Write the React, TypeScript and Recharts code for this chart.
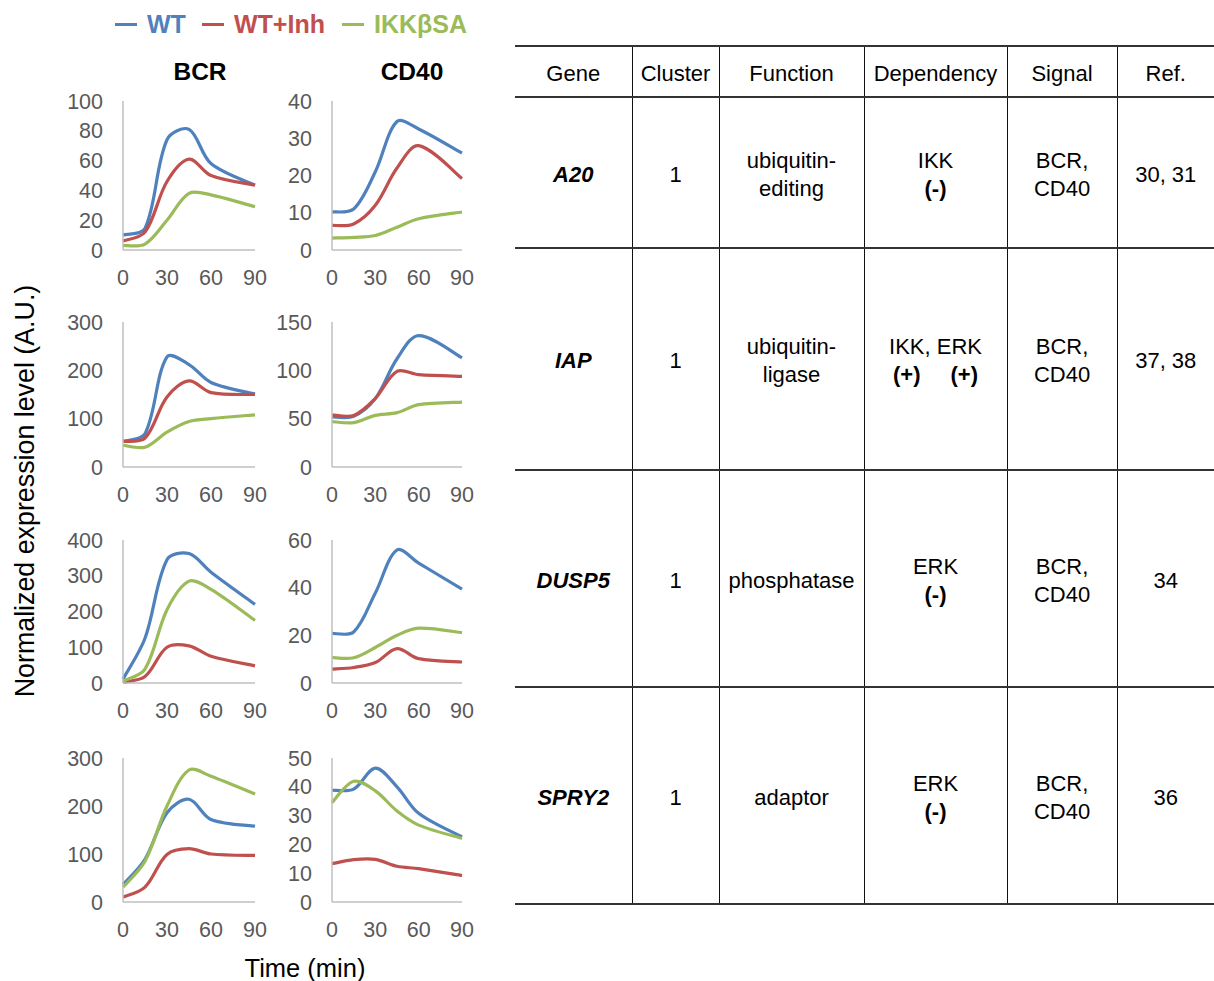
import React from 'react';
import { LineChart, Line, XAxis, YAxis } from 'recharts';

const TIMES = [0, 15, 30, 45, 60, 90];
const X_TICKS = [0, 30, 60, 90];

const SERIES = [
  { key: 'wt', name: 'WT', color: '#4F81BD' },
  { key: 'inh', name: 'WT+Inh', color: '#C0504D' },
  { key: 'sa', name: 'IKKβSA', color: '#9BBB59' },
];

// A20
const A20_BCR_WT = [10, 14.5, 74, 81, 58, 43.5];
const A20_BCR_INH = [6, 12, 46, 61, 50, 43.5];
const A20_BCR_SA = [3, 4, 20, 38, 37, 29];
const A20_CD40_WT = [10.2, 11, 21, 34.5, 32.5, 26];
const A20_CD40_INH = [6.6, 7, 12, 22, 28, 19.2];
const A20_CD40_SA = [3.2, 3.4, 3.9, 6.1, 8.4, 10.2];
// IAP
const IAP_BCR_WT = [53, 69, 228, 212, 175, 151];
const IAP_BCR_INH = [53, 60, 145, 178, 154, 150];
const IAP_BCR_SA = [45, 41, 72, 94, 100, 108];
const IAP_CD40_WT = [51.7, 52.4, 70.7, 112, 136, 113];
const IAP_CD40_INH = [54, 53.4, 71, 99, 95.5, 93.8];
const IAP_CD40_SA = [47, 45.9, 53.4, 56.2, 64.5, 67.2];
// DUSP5
const DUSP5_BCR_WT = [11, 125, 345, 362, 310, 220];
const DUSP5_BCR_INH = [2, 18, 100, 104, 75, 48];
const DUSP5_BCR_SA = [5, 39, 205, 285, 262, 175];
const DUSP5_CD40_WT = [20.8, 21.4, 37.8, 55.8, 50.3, 39.4];
const DUSP5_CD40_INH = [5.8, 6.5, 8.6, 14.4, 10.2, 8.8];
const DUSP5_CD40_SA = [10.7, 10.6, 14.9, 20, 23, 21.1];
// SPRY2
const SPRY2_BCR_WT = [36, 89, 186, 214, 172, 158];
const SPRY2_BCR_INH = [10, 31, 99, 111, 100, 97];
const SPRY2_BCR_SA = [31, 85, 200, 275, 262, 225];
const SPRY2_CD40_WT = [38.8, 39.2, 46.5, 40, 30.8, 22.6];
const SPRY2_CD40_INH = [13.3, 14.7, 14.8, 12.4, 11.6, 9.2];
const SPRY2_CD40_SA = [34.5, 41.9, 38.6, 31.6, 26.7, 22.1];

const BCR_TICKS = [[0, 20, 40, 60, 80, 100], [0, 100, 200, 300], [0, 100, 200, 300, 400], [0, 100, 200, 300]];
const CD40_TICKS = [[0, 10, 20, 30, 40], [0, 50, 100, 150], [0, 20, 40, 60], [0, 10, 20, 30, 40, 50]];

// table
const HEADERS = ['Gene', 'Cluster', 'Function', 'Dependency', 'Signal', 'Ref.'];
const GENES = ['A20', 'IAP', 'DUSP5', 'SPRY2'];
const CLUSTERS = ['1', '1', '1', '1'];
const FUNCTIONS = [['ubiquitin-', 'editing'], ['ubiquitin-', 'ligase'], ['phosphatase'], ['adaptor']];
const DEP_KINASE = ['IKK', 'IKK, ERK', 'ERK', 'ERK'];
const DEP_SIGN = [['(-)'], ['(+)', '(+)'], ['(-)'], ['(-)']];
const SIGNALS = [['BCR,', 'CD40'], ['BCR,', 'CD40'], ['BCR,', 'CD40'], ['BCR,', 'CD40']];
const REFS = ['30, 31', '37, 38', '34', '36'];

const rows = (wt: number[], inh: number[], sa: number[]) =>
  TIMES.map((t, i) => ({ t, wt: wt[i], inh: inh[i], sa: sa[i] }));

const BCR_DATA = [
  rows(A20_BCR_WT, A20_BCR_INH, A20_BCR_SA),
  rows(IAP_BCR_WT, IAP_BCR_INH, IAP_BCR_SA),
  rows(DUSP5_BCR_WT, DUSP5_BCR_INH, DUSP5_BCR_SA),
  rows(SPRY2_BCR_WT, SPRY2_BCR_INH, SPRY2_BCR_SA),
];
const CD40_DATA = [
  rows(A20_CD40_WT, A20_CD40_INH, A20_CD40_SA),
  rows(IAP_CD40_WT, IAP_CD40_INH, IAP_CD40_SA),
  rows(DUSP5_CD40_WT, DUSP5_CD40_INH, DUSP5_CD40_SA),
  rows(SPRY2_CD40_WT, SPRY2_CD40_INH, SPRY2_CD40_SA),
];

// Excel-like smoothed line: bezier through the points, tangents scaled by segment length
function excelSmooth(context: any) {
  let pts: number[][] = [];
  return {
    areaStart() {},
    areaEnd() {},
    lineStart() {
      pts = [];
    },
    point(x: number, y: number) {
      pts.push([+x, +y]);
    },
    lineEnd() {
      const n = pts.length;
      if (!n) return;
      const dist = (a: number[], b: number[]) => Math.hypot(b[0] - a[0], b[1] - a[1]) || 1e-6;
      context.moveTo(pts[0][0], pts[0][1]);
      for (let i = 0; i < n - 1; i++) {
        const p0 = pts[i - 1] || pts[i];
        const p1 = pts[i];
        const p2 = pts[i + 1];
        const p3 = pts[i + 2] || p2;
        const d12 = dist(p1, p2);
        const d01 = i > 0 ? dist(p0, p1) : d12;
        const d23 = i + 2 < n ? dist(p2, p3) : d12;
        const f1 = d12 / (d01 + d12) / 3;
        const f2 = d12 / (d12 + d23) / 3;
        context.bezierCurveTo(
          p1[0] + (p2[0] - p0[0]) * f1,
          p1[1] + (p2[1] - p0[1]) * f1,
          p2[0] - (p3[0] - p1[0]) * f2,
          p2[1] - (p3[1] - p1[1]) * f2,
          p2[0],
          p2[1]
        );
      }
    },
  };
}

// panel geometry (plot area in page pixels)
const ROW_TOP = [101, 322, 540, 758];
const ROW_BOTTOM = [250, 467, 683, 902];
const COL_LEFT = [123, 332];
const COL_RIGHT = [255, 462];

const ML = 80, MR = 18, MT = 16, MB = 50;
const AXIS = { stroke: '#BFBFBF', strokeWidth: 1.5 };
const TICK = { fill: '#595959', fontSize: 21.5 };
const FONT = 'Arial, "Liberation Sans", Helvetica, sans-serif';

function Panel({ x0, x1, y0, y1, data, ticks }: any) {
  const width = x1 - x0 + ML + MR;
  const height = y1 - y0 + MT + MB;
  return (
    <div style={{ position: 'absolute', left: x0 - ML, top: y0 - MT }}>
      <LineChart width={width} height={height} data={data} margin={{ top: MT, right: MR, bottom: 0, left: 0 }}>
        <XAxis
          dataKey="t"
          type="number"
          domain={[0, 90]}
          ticks={X_TICKS}
          interval={0}
          height={MB}
          tickLine={false}
          tickSize={0}
          tickMargin={20}
          axisLine={AXIS}
          tick={TICK}
        />
        <YAxis
          type="number"
          domain={[ticks[0], ticks[ticks.length - 1]]}
          ticks={ticks}
          interval={0}
          width={ML}
          tickLine={false}
          tickSize={0}
          tickMargin={20}
          axisLine={AXIS}
          tick={TICK}
        />
        {SERIES.map((s) => (
          <Line
            key={s.key}
            type={excelSmooth as any}
            dataKey={s.key}
            stroke={s.color}
            strokeWidth={3.2}
            dot={false}
            isAnimationActive={false}
          />
        ))}
      </LineChart>
    </div>
  );
}

const LEGEND_X = [115, 202, 342];
const COL_W = [117, 87, 145, 143, 110, 97];
const ROW_H = [51, 151, 222, 217, 217];
const HLINE = '2px solid #333';
const VLINE = '1.5px solid #111';

function Table() {
  const cell = (ci: number, ri: number, content: React.ReactNode, extra: any = {}) => (
    <td
      key={ci}
      style={{
        padding: '4px 0 0 0',
        textAlign: 'center',
        verticalAlign: 'middle',
        borderTop: ri === 0 ? HLINE : undefined,
        borderBottom: HLINE,
        borderLeft: ci === 0 ? 'none' : VLINE,
        lineHeight: '28px',
        ...extra,
      }}
    >
      {content}
    </td>
  );
  const lines = (arr: string[]) => arr.map((l, i) => <div key={i}>{l}</div>);
  return (
    <table
      style={{
        position: 'absolute',
        left: 515,
        top: 45,
        width: 699,
        borderCollapse: 'collapse',
        tableLayout: 'fixed',
        fontSize: 22,
        color: '#000',
      }}
    >
      <colgroup>
        {COL_W.map((w, i) => <col key={i} style={{ width: w }} />)}
      </colgroup>
      <tbody>
        <tr style={{ height: ROW_H[0] }}>{HEADERS.map((h, i) => cell(i, 0, h))}</tr>
        {GENES.map((g, r) => (
          <tr key={g} style={{ height: ROW_H[r + 1] }}>
            {cell(0, r + 1, g, { fontWeight: 'bold', fontStyle: 'italic' })}
            {cell(1, r + 1, CLUSTERS[r])}
            {cell(2, r + 1, lines(FUNCTIONS[r]))}
            {cell(
              3,
              r + 1,
              <>
                <div>{DEP_KINASE[r]}</div>
                <div style={{ fontWeight: 'bold' }}>
                  {DEP_SIGN[r].map((s, i) => (
                    <span key={i} style={{ marginLeft: i ? 30 : 0 }}>{s}</span>
                  ))}
                </div>
              </>
            )}
            {cell(4, r + 1, lines(SIGNALS[r]))}
            {cell(5, r + 1, REFS[r])}
          </tr>
        ))}
      </tbody>
    </table>
  );
}

export default function App() {
  return (
    <div style={{ position: 'relative', width: 1214, height: 981, background: '#fff', fontFamily: FONT, overflow: 'hidden' }}>
      <style>{'body{margin:0;}'}</style>
      {SERIES.map((s, i) => (
        <div key={s.key} style={{ position: 'absolute', left: LEGEND_X[i], top: 8, display: 'flex', alignItems: 'center', height: 32 }}>
          <div style={{ width: 22, height: 3, background: s.color, marginRight: 10 }} />
          <span style={{ color: s.color, fontWeight: 'bold', fontSize: 25 }}>{s.name}</span>
        </div>
      ))}
      <div style={{ position: 'absolute', left: 200, top: 72, transform: 'translate(-50%,-50%)', fontWeight: 'bold', fontSize: 24.5 }}>BCR</div>
      <div style={{ position: 'absolute', left: 412, top: 72, transform: 'translate(-50%,-50%)', fontWeight: 'bold', fontSize: 24.5 }}>CD40</div>
      {ROW_TOP.map((top, r) => (
        <React.Fragment key={r}>
          <Panel x0={COL_LEFT[0]} x1={COL_RIGHT[0]} y0={top} y1={ROW_BOTTOM[r]} data={BCR_DATA[r]} ticks={BCR_TICKS[r]} />
          <Panel x0={COL_LEFT[1]} x1={COL_RIGHT[1]} y0={top} y1={ROW_BOTTOM[r]} data={CD40_DATA[r]} ticks={CD40_TICKS[r]} />
        </React.Fragment>
      ))}
      <div
        style={{
          position: 'absolute',
          left: 25,
          top: 491,
          transform: 'translate(-50%,-50%) rotate(-90deg)',
          whiteSpace: 'nowrap',
          fontSize: 26.8,
        }}
      >
        Normalized expression level (A.U.)
      </div>
      <div style={{ position: 'absolute', left: 305, top: 968, transform: 'translate(-50%,-50%)', fontSize: 25.5, whiteSpace: 'nowrap' }}>
        Time (min)
      </div>
      <Table />
    </div>
  );
}
